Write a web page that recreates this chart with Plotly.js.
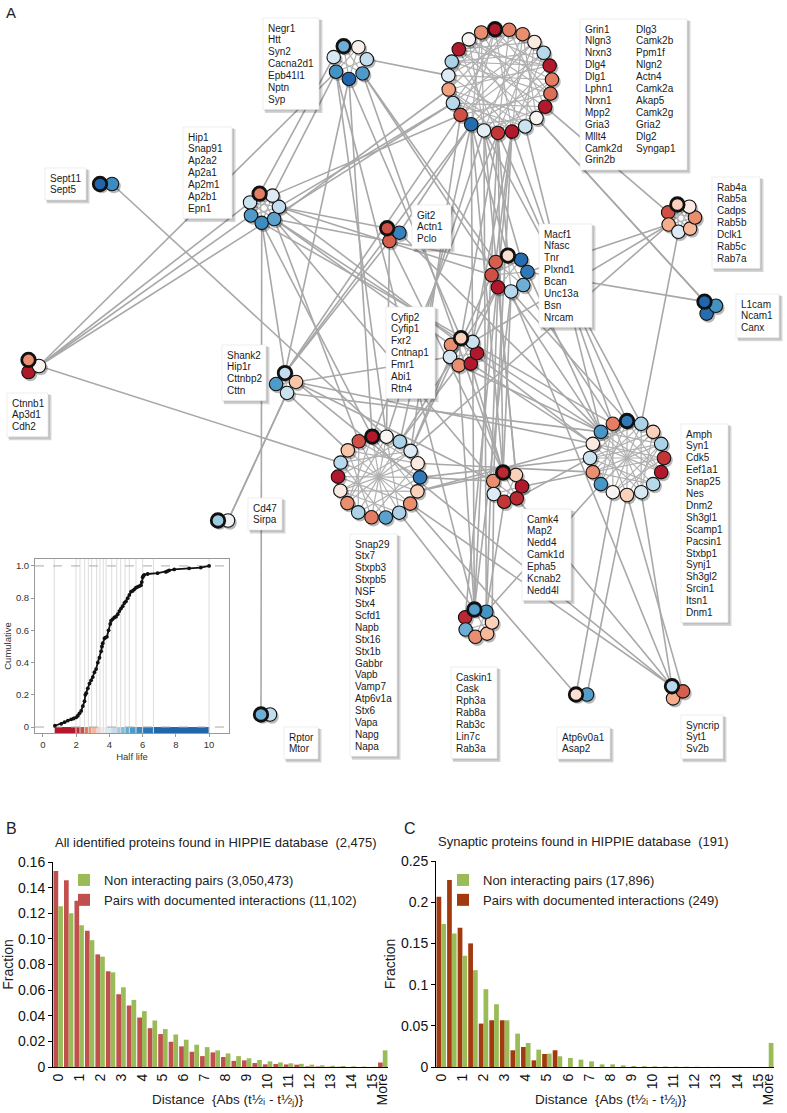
<!DOCTYPE html>
<html><head><meta charset="utf-8">
<script src="https://cdn.plot.ly/plotly-3.0.1.min.js"></script>
<style>html,body{margin:0;padding:0;background:#fff}#chart{width:787px;height:1113px}</style>
</head><body><div id="chart"></div>
<script>
// ================= DATA =================
// Panels B and C: histogram bins of |t1/2 i - t1/2 j|
const distanceBins = ["0","0.5","1","1.5","2","2.5","3","3.5","4","4.5","5","5.5","6","6.5","7","7.5","8","8.5","9","9.5","10","10.5","11","11.5","12","12.5","13","13.5","14","14.5","15","More"];
const labelledBins = ["0","1","2","3","4","5","6","7","8","9","10","11","12","13","14","15","More"];
const allInteracting = [0.153,0.1457,0.1297,0.1063,0.0879,0.0747,0.0568,0.048,0.0386,0.0303,0.0257,0.0197,0.0161,0.0119,0.0085,0.0114,0.0078,0.0048,0.0052,0.0031,0.0021,0.0023,0.002,0.0018,0.0005,0.0004,0.0002,0.0002,0,0,0,0.0035];
const allNonInteracting = [0.1255,0.12,0.1107,0.099,0.0861,0.0739,0.0622,0.0524,0.0436,0.0363,0.0296,0.0254,0.0213,0.0174,0.0155,0.013,0.0106,0.0085,0.0068,0.0055,0.0044,0.0036,0.0029,0.0025,0.0018,0.0013,0.001,0.0008,0.0005,0.0003,0.0002,0.013];
const synInteracting = [0.2067,0.2269,0.169,0.15,0.0527,0.0567,0.0567,0.0203,0.0243,0.0081,0.0158,0.0203,0,0,0,0,0,0,0,0,0,0,0,0,0,0,0,0,0,0,0,0];
const synNonInteracting = [0.1734,0.162,0.135,0.1175,0.0944,0.0762,0.0567,0.0405,0.0292,0.0211,0.0162,0.013,0.011,0.0089,0.0069,0.0032,0.0032,0.002,0.0012,0.001,0.0008,0.0006,0.0005,0.0004,0.0003,0.0002,0.0002,0.0001,0.0001,0.0001,0.0001,0.0292];
const seriesNamesB = ["Pairs with documented interactions (11,102)","Non interacting pairs (3,050,473)"];
const seriesNamesC = ["Pairs with documented interactions (249)","Non interacting pairs (17,896)"];

// Inset: cumulative distribution of half lives
const halfLifeSorted = [0.72,1.1,1.3,1.5,1.7,1.85,2.0,2.1,2.2,2.3,2.4,2.5,2.55,2.6,2.7,2.8,2.9,3.0,3.1,3.2,3.3,3.4,3.5,3.55,3.6,3.7,3.75,3.85,3.95,4.05,4.1,4.2,4.3,4.4,4.5,4.6,4.7,4.8,4.9,5.0,5.1,5.2,5.3,5.4,5.5,5.6,5.7,5.8,5.9,5.95,6.0,6.05,6.1,6.3,6.9,7.4,7.5,7.6,7.9,8.8,9.5,10.0];
const cumulativeFraction = [0.008,0.02,0.03,0.04,0.048,0.053,0.06,0.07,0.085,0.1,0.13,0.16,0.2,0.21,0.24,0.27,0.29,0.31,0.34,0.36,0.4,0.43,0.47,0.5,0.52,0.55,0.555,0.56,0.6,0.64,0.66,0.67,0.68,0.685,0.7,0.72,0.735,0.75,0.77,0.78,0.8,0.82,0.84,0.845,0.855,0.865,0.87,0.875,0.88,0.9,0.93,0.94,0.945,0.95,0.955,0.963,0.968,0.973,0.978,0.985,0.99,1.0];
const colourBreaks = [0.68,1.99,2.23,2.51,2.73,2.93,3.23,3.43,3.63,3.80,4.14,4.44,4.68,4.94,5.20,5.60,6.00,6.65,10.0];
const breakColours = ["#b2182b","#b2182b","#c43a3a","#d6604d","#e58267","#f4a582","#f9c8ad","#fbe3d6","#f7f7f7","#e4eef5","#d1e5f0","#b4d6ea","#92c5de","#74b2d6","#5aa1cd","#4393c3","#3582be","#2166ac","#2166ac"];

// Network: protein complexes (clusters), their genes and half lives
const clusterGenes = [
 ["Negr1","Htt","Syn2","Cacna2d1","Epb41l1","Nptn","Syp"],
 ["Grin1","Nlgn3","Nrxn3","Dlg4","Dlg1","Lphn1","Nrxn1","Mpp2","Gria3","Mllt4","Camk2d","Grin2b","Dlg3","Camk2b","Ppm1f","Nlgn2","Actn4","Camk2a","Akap5","Camk2g","Gria2","Dlg2","Syngap1"],
 ["Hip1","Snap91","Ap2a2","Ap2a1","Ap2m1","Ap2b1","Epn1"],
 ["Sept11","Sept5"],
 ["Ctnnb1","Ap3d1","Cdh2"],
 ["Git2","Actn1","Pclo"],
 ["Macf1","Nfasc","Tnr","Plxnd1","Bcan","Unc13a","Bsn","Nrcam"],
 ["Cyfip2","Cyfip1","Fxr2","Cntnap1","Fmr1","Abi1","Rtn4"],
 ["Shank2","Hip1r","Cttnbp2","Cttn"],
 ["Snap29","Stx7","Stxpb3","Stxpb5","NSF","Stx4","Scfd1","Napb","Stx16","Stx1b","Gabbr","Vapb","Vamp7","Atp6v1a","Stx6","Vapa","Napg","Napa"],
 ["Camk4","Map2","Nedd4","Camk1d","Epha5","Kcnab2","Nedd4l"],
 ["Amph","Syn1","Cdk5","Eef1a1","Snap25","Nes","Dnm2","Sh3gl1","Scamp1","Pacsin1","Stxbp1","Synj1","Sh3gl2","Srcin1","Itsn1","Dnm1"],
 ["Rab4a","Rab5a","Cadps","Rab5b","Dclk1","Rab5c","Rab7a"],
 ["L1cam","Ncam1","Canx"],
 ["Cd47","Sirpa"],
 ["Caskin1","Cask","Rph3a","Rab8a","Rab3c","Lin7c","Rab3a"],
 ["Rptor","Mtor"],
 ["Atp6v0a1","Asap2"],
 ["Syncrip","Syt1","Sv2b"]
];
const clusterHalfLife = [
 [5.0,3.55,4.3,5.4,7.0,5.6,4.0],
 [1.3,2.7,2.8,3.5,4.4,2.0,2.7,2.6,2.0,3.6,4.2,1.7,2.2,3.8,6.5,2.4,4.4,2.9,3.9,4.5,2.0,3.6,2.8],
 [2.7,3.9,4.3,5.2,5.8,5.4,4.2],
 [7.0,5.8],
 [2.8,3.6,1.9],
 [2.4,6.0,2.5],
 [3.4,6.5,6.2,5.0,4.4,1.5,2.4,2.5],
 [3.3,4.2,1.9,2.0,2.8,4.1,2.8],
 [4.3,3.2,4.2,5.4],
 [2.0,3.6,4.5,3.9,3.5,6.2,3.3,2.8,4.5,5.2,2.7,4.5,2.8,3.5,2.0,4.4,3.2,2.4],
 [2.1,3.3,1.4,2.1,2.2,3.9,2.8],
 [6.2,4.5,3.3,4.5,2.2,1.6,4.4,4.0,3.3,3.6,5.5,2.8,4.2,3.5,5.5,2.7],
 [3.3,3.5,2.8,3.1,3.9,3.0,2.4],
 [6.8,5.6,6.5],
 [4.6,3.7],
 [5.3,5.6,3.3,3.1,2.8,5.0,2.1],
 [5.0,4.3],
 [3.4,5.3],
 [4.4,2.5,3.0]
];
// interactions inside each complex: [node i, node j]
const clusterIntra = [
 [[0,3],[1,4],[2,5],[3,6],[0,4],[1,5]],
 [[0,11],[0,14],[1,12],[1,16],[2,13],[2,18],[3,12],[3,15],[4,14],[4,19],[5,13],[5,17],[5,20],[6,14],[6,18],[7,15],[7,21],[8,16],[8,20],[9,17],[9,22],[10,18],[10,21],[11,19],[11,2],[12,20],[12,6],[13,21],[13,8],[14,22],[14,9],[15,0],[15,4],[16,3],[16,10],[17,1],[17,11],[18,0],[19,7],[20,3],[21,2],[22,5],[0,7],[2,9],[4,11],[6,21],[8,1],[10,3],[12,17],[19,5],[20,9],[22,13]],
 [[0,3],[1,4],[2,5],[3,6],[0,4],[1,5],[2,6],[0,2]],
 [],
 [],
 [[0,2]],
 [[0,4],[1,5],[2,6],[3,7],[0,3],[1,6]],
 [[0,3],[1,4],[2,5],[0,4]],
 [[0,2],[1,3]],
 [[0,9],[0,6],[1,10],[2,11],[3,12],[4,13],[5,14],[6,15],[7,16],[8,17],[0,12],[1,8],[2,14],[3,15],[4,10],[5,11],[6,13],[7,14],[9,15],[10,16],[11,17],[12,1],[13,3],[16,4],[17,5],[0,4],[8,13]],
 [[0,3],[1,4],[2,5],[3,6],[0,2]],
 [[0,8],[0,5],[1,9],[2,10],[3,11],[4,12],[5,13],[6,14],[7,15],[0,10],[1,7],[2,12],[3,9],[4,11],[5,14],[6,12],[7,13],[8,14],[9,15],[10,2],[11,1],[12,3],[13,4],[15,5],[0,12],[2,7],[4,9],[6,11],[8,3],[10,15],[1,13],[3,14]],
 [[0,3],[1,4],[2,5],[3,6],[0,4],[1,5],[2,6]],
 [],
 [],
 [[0,3],[2,5],[1,4]],
 [],
 [],
 []
];
// interactions between complexes: [complex a, complex b, node shift a, node shift b]
const interEdges = [
 [0,1,0,0],[0,4,0,0],[0,2,0,0],[0,2,1,-1],[0,9,0,0],[0,9,1,1],[0,7,0,0],[0,6,0,0],[0,10,-1,0],[0,11,0,0],[0,15,1,0],[0,8,0,0],
 [1,2,0,0],[1,2,1,1],[1,2,-1,-1],[1,4,0,0],[1,5,0,0],
 [1,6,0,0],[1,6,1,1],[1,6,-1,-1],[1,6,2,0],[1,7,0,0],[1,7,-1,1],[1,8,0,0],[1,8,1,0],
 [1,9,0,0],[1,9,1,1],[1,9,-1,-1],[1,9,2,2],[1,10,0,0],[1,10,1,1],[1,10,-1,-1],[1,10,2,0],
 [1,11,0,0],[1,11,1,1],[1,11,-1,-1],[1,11,2,2],[1,12,0,0],[1,13,0,0],
 [1,15,0,0],[1,15,1,1],[1,15,-1,-1],[1,15,2,0],
 [2,4,0,0],[2,4,1,0],[2,16,0,0],[2,6,0,0],[2,6,1,1],[2,7,0,0],[2,9,0,0],[2,9,1,1],[2,10,0,0],
 [2,11,0,0],[2,11,1,1],[2,11,-1,-1],[2,8,0,0],[2,5,0,0],
 [3,9,0,3],[4,9,0,0],
 [5,9,0,0],[5,11,0,0],[5,8,0,0],[5,10,0,0],
 [6,9,0,0],[6,9,1,1],[6,10,0,0],[6,10,1,1],[6,11,0,0],[6,11,1,1],[6,11,-1,-1],[6,15,0,0],[6,15,1,1],[6,13,0,0],[6,12,0,0],[6,18,0,0],[6,7,0,0],
 [7,8,0,0],[7,9,0,0],[7,9,1,1],[7,11,0,0],[7,11,1,1],[7,10,0,0],[7,12,0,0],[7,15,0,0],
 [8,14,0,0],[8,11,0,0],[8,11,1,1],[8,9,0,0],[8,18,0,0],[8,10,0,0],
 [9,18,0,0],[9,11,0,0],[9,11,1,1],[9,11,-1,-1],[9,10,0,0],[9,10,1,1],[9,15,0,0],[9,17,0,0],
 [10,11,0,0],[10,11,1,1],[10,15,0,0],[10,15,1,1],[10,18,0,0],
 [11,18,0,0],[11,18,1,1],[11,17,0,0],[11,17,1,-1],[11,15,0,0],[11,12,0,0],
 [12,9,0,0],[13,1,0,0],[14,8,0,0]
];

// ================= LAYOUT (positions / sizes, network pixel space) =================
const W = 787, H = 1113, NET_H = 780;
const clusterCX = [350,500,264,106,32,392,509.5,463,286,379,507,627,681,709,223,478,265.5,581.5,676];
const clusterCY = [62,81,208,184,366,234,273.5,352,383,477,487,458,218,307,520.5,623,714.5,694.5,692];
const clusterR  = [17,52,15,6,7,7.5,18,14,10,41,15,37,14,7,5,14,4.5,5.5,7];
const clusterStart = [-22,-5.5,-17,-90,-30,-40,-5,-8,-6,-9.5,-15,0,-15,-40,-90,-15,-90,-90,-35];
const labelX = [267,584,187,49,11,416,543,390,226,354,526,685,716,740,252,455,288,561,685];
const labelY = [28,29,137,178,403,215,234,317,355,544,519,434,187,304,508,677,737,737,725];
const labelW = [56,107,49,41,41,39,53,49,44,47,49,47,48,43,34,46,34,53,42];
const labelCols = [1,2,1,1,1,1,1,1,1,1,1,1,1,1,1,1,1,1,1];
const LINE = 11.9;
const FONT = "Liberation Sans, Arial, Helvetica, sans-serif";

// ================= BUILD =================
const cmin = colourBreaks[0], cmax = colourBreaks[colourBreaks.length-1];
const colorscale = colourBreaks.map((b,i)=>[(b-cmin)/(cmax-cmin), breakColours[i]]);

function nodeXY(c,k){
  const n = clusterHalfLife[c].length;
  const th = (clusterStart[c] + 360*k/n) * Math.PI/180;
  return [clusterCX[c] + clusterR[c]*Math.sin(th), clusterCY[c] - clusterR[c]*Math.cos(th)];
}
function nearest(c,d){
  const n = clusterHalfLife[c].length; let best=0, bd=Infinity;
  for(let k=0;k<n;k++){const p=nodeXY(c,k);const dd=(p[0]-clusterCX[d])**2+(p[1]-clusterCY[d])**2;if(dd<bd){bd=dd;best=k;}}
  return best;
}
const intraX=[], intraY=[];
clusterIntra.forEach((list,c)=>list.forEach(([a,b])=>{const p=nodeXY(c,a),q=nodeXY(c,b);intraX.push(p[0],q[0],null);intraY.push(p[1],q[1],null);}));
const interX=[], interY=[];
interEdges.forEach(([a,b,oa,ob])=>{
  const na=clusterHalfLife[a].length, nb=clusterHalfLife[b].length;
  const ka=((nearest(a,b)+oa)%na+na)%na, kb=((nearest(b,a)+ob)%nb+nb)%nb;
  const p=nodeXY(a,ka), q=nodeXY(b,kb);
  interX.push(p[0],q[0],null); interY.push(p[1],q[1],null);
});
const nx=[],ny=[],nv=[],nw=[],nt=[],sx=[],sy=[];
clusterHalfLife.forEach((vals,c)=>{
  for(let k=vals.length-1;k>=0;k--){
    const p=nodeXY(c,k);
    nx.push(p[0]); ny.push(p[1]); nv.push(vals[k]); nw.push(k===0?2.8:1.1); nt.push(clusterGenes[c][k]);
    sx.push(p[0]+1.8); sy.push(p[1]+2.2);
  }
});

const shapes=[], annotations=[];
clusterGenes.forEach((genes,c)=>{
  const cols = labelCols[c];
  const perCol = Math.ceil(genes.length/cols);
  const nLines = Math.min(perCol, genes.length);
  const x0 = labelX[c]-4, y0 = labelY[c]-10, x1 = x0+labelW[c], y1 = labelY[c]+(nLines-1)*LINE+10;
  shapes.push({type:'rect',xref:'x',yref:'y',x0:x0+2,y0:y0+2,x1:x1+3.5,y1:y1+3.5,fillcolor:'rgba(0,0,0,0.16)',line:{width:0},layer:'above'});
  shapes.push({type:'rect',xref:'x',yref:'y',x0:x0+1,y0:y0+1,x1:x1+2,y1:y1+2,fillcolor:'rgba(0,0,0,0.10)',line:{width:0},layer:'above'});
  shapes.push({type:'rect',xref:'x',yref:'y',x0:x0,y0:y0,x1:x1,y1:y1,fillcolor:'#ffffff',line:{color:'#e2e2e2',width:0.6},layer:'above'});
  genes.forEach((g,i)=>{
    const col = Math.floor(i/perCol), row = i%perCol;
    annotations.push({xref:'x',yref:'y',x:labelX[c]+col*51,y:labelY[c]+row*LINE,text:g,showarrow:false,xanchor:'left',yanchor:'middle',font:{family:FONT,size:10,color:'#1a1a1a'},borderpad:0});
  });
});
const py = v => 1 - v/H;
annotations.push({xref:'x',yref:'y',x:4,y:12,text:'A',showarrow:false,xanchor:'left',yanchor:'middle',font:{family:FONT,size:15,color:'#222'}});
annotations.push({xref:'paper',yref:'paper',x:4/W,y:py(828),text:'B',showarrow:false,xanchor:'left',yanchor:'middle',font:{family:FONT,size:16,color:'#222'}});
annotations.push({xref:'paper',yref:'paper',x:402/W,y:py(828),text:'C',showarrow:false,xanchor:'left',yanchor:'middle',font:{family:FONT,size:16,color:'#222'}});
annotations.push({xref:'paper',yref:'paper',x:216/W,y:py(842),text:'All identified proteins found in HIPPIE database  (2,475)',showarrow:false,xanchor:'center',yanchor:'middle',font:{family:FONT,size:13,color:'#222'}});
annotations.push({xref:'paper',yref:'paper',x:583/W,y:py(841),text:'Synaptic proteins found in HIPPIE database  (191)',showarrow:false,xanchor:'center',yanchor:'middle',font:{family:FONT,size:13,color:'#222'}});
const distTitle = 'Distance  {Abs (t½ᵢ - t½ⱼ)}';
annotations.push({xref:'paper',yref:'paper',x:228/W,y:py(1100),text:distTitle,showarrow:false,xanchor:'center',yanchor:'middle',font:{family:FONT,size:13.5,color:'#222'}});
annotations.push({xref:'paper',yref:'paper',x:611/W,y:py(1100),text:distTitle,showarrow:false,xanchor:'center',yanchor:'middle',font:{family:FONT,size:13.5,color:'#222'}});

// inset helpers
const gx=[], gy=[];
colourBreaks.forEach(b=>{gx.push(b,b,null);gy.push(-0.037,1.043,null);});
const stripZ = [colourBreaks.slice(0,-1).map((b,i)=>(b+colourBreaks[i+1])/2)];

const traces = [
 {type:'scatter',mode:'lines',x:intraX,y:intraY,xaxis:'x',yaxis:'y',line:{color:'#b0b0b0',width:1.2},hoverinfo:'skip',showlegend:false},
 {type:'scatter',mode:'lines',x:interX,y:interY,xaxis:'x',yaxis:'y',line:{color:'#a8a8a8',width:1.6},hoverinfo:'skip',showlegend:false},
 {type:'scatter',mode:'markers',x:sx,y:sy,xaxis:'x',yaxis:'y',marker:{size:14,color:'rgba(0,0,0,0.28)',line:{width:0}},hoverinfo:'skip',showlegend:false},
 {type:'scatter',mode:'markers',x:nx,y:ny,text:nt,xaxis:'x',yaxis:'y',marker:{size:13.5,color:nv,colorscale:colorscale,cmin:cmin,cmax:cmax,showscale:false,line:{color:'#111',width:nw}},showlegend:false},
 // inset
 {type:'scatter',mode:'lines',x:gx,y:gy,xaxis:'x2',yaxis:'y2',line:{color:'#dcdcdc',width:1},hoverinfo:'skip',showlegend:false},
 {type:'scatter',mode:'lines',x:[-0.48,11.2,null,-0.48,11.2],y:[0,0,null,1,1],xaxis:'x2',yaxis:'y2',line:{color:'#aaaaaa',width:1,dash:'dash'},hoverinfo:'skip',showlegend:false},
 {type:'heatmap',x:colourBreaks,y:[-0.037,0],z:stripZ,xaxis:'x2',yaxis:'y2',colorscale:colorscale,zmin:cmin,zmax:cmax,showscale:false,hoverinfo:'skip'},
 {type:'scatter',mode:'lines+markers',x:halfLifeSorted,y:cumulativeFraction,xaxis:'x2',yaxis:'y2',line:{color:'#111',width:1.8},marker:{size:3.8,color:'#111'},showlegend:false},
 // B
 {type:'bar',x:distanceBins,y:allInteracting,xaxis:'x3',yaxis:'y3',name:seriesNamesB[0],marker:{color:'#C0504D'},legend:'legend'},
 {type:'bar',x:distanceBins,y:allNonInteracting,xaxis:'x3',yaxis:'y3',name:seriesNamesB[1],marker:{color:'#9BBB59'},legend:'legend'},
 // C
 {type:'bar',x:distanceBins,y:synInteracting,xaxis:'x4',yaxis:'y4',name:seriesNamesC[0],marker:{color:'#A23A10'},legend:'legend2'},
 {type:'bar',x:distanceBins,y:synNonInteracting,xaxis:'x4',yaxis:'y4',name:seriesNamesC[1],marker:{color:'#9BBB59'},legend:'legend2'}
];

function barX(dom,anchor){return {domain:dom,anchor:anchor,type:'category',categoryorder:'array',categoryarray:distanceBins,range:[-0.5,distanceBins.length-0.5],
  showline:true,linecolor:'#000',linewidth:1,ticks:'',tickmode:'array',tickvals:labelledBins,ticktext:labelledBins,
  tickangle:-90,tickfont:{family:FONT,size:14,color:'#111'},showgrid:false,zeroline:false,fixedrange:true};}
function tickX(over,anchor){return {overlaying:over,anchor:anchor,type:'category',categoryorder:'array',categoryarray:distanceBins,range:[-0.5,distanceBins.length-0.5],
  showline:false,ticks:'outside',ticklen:4,tickcolor:'#000',tickson:'boundaries',tickmode:'array',tickvals:distanceBins,showticklabels:false,showgrid:false,zeroline:false,fixedrange:true};}
function barY(dom,anchor,range,vals,txt){return {domain:dom,anchor:anchor,range:range,showline:true,linecolor:'#000',linewidth:1,ticks:'outside',ticklen:4,tickcolor:'#000',
  tickmode:'array',tickvals:vals,ticktext:txt,tickfont:{family:FONT,size:14,color:'#111'},showgrid:false,zeroline:false,
  title:{text:'Fraction',font:{family:FONT,size:14,color:'#222'},standoff:2},fixedrange:true};}

const layout = {
  width:W,height:H,margin:{l:0,r:0,t:0,b:0,autoexpand:false},paper_bgcolor:'#fff',plot_bgcolor:'rgba(0,0,0,0)',
  font:{family:FONT,color:'#222'},hovermode:false,barmode:'group',bargap:0.1,bargroupgap:0,showlegend:true,
  xaxis:{domain:[0,1],range:[0,W],visible:false,fixedrange:true},
  yaxis:{domain:[1-NET_H/H,1],range:[NET_H,0],visible:false,fixedrange:true},
  xaxis2:{domain:[35/W,229/W],anchor:'y2',range:[-0.48,11.2],showline:true,mirror:true,linecolor:'#999',linewidth:1,ticks:'outside',ticklen:3,tickcolor:'#999',
    tickvals:[0,2,4,6,8,10],tickfont:{family:FONT,size:9.5,color:'#333'},showgrid:false,zeroline:false,title:{text:'Half life',font:{family:FONT,size:9.5,color:'#333'},standoff:3},fixedrange:true},
  yaxis2:{domain:[py(733),py(559)],anchor:'x2',range:[-0.037,1.043],showline:true,mirror:true,linecolor:'#999',linewidth:1,ticks:'outside',ticklen:3,tickcolor:'#999',
    tickvals:[0,0.2,0.4,0.6,0.8,1.0],ticktext:['0','0.2','0.4','0.6','0.8','1.0'],tickfont:{family:FONT,size:9.5,color:'#333'},showgrid:false,zeroline:false,
    title:{text:'Cumulative',font:{family:FONT,size:9.5,color:'#333'},standoff:2},fixedrange:true},
  xaxis3:barX([53/W,388/W],'y3'),
  yaxis3:barY([py(1067),py(862)],'x3',[0,0.16],[0,0.02,0.04,0.06,0.08,0.10,0.12,0.14,0.16],['0','0.02','0.04','0.06','0.08','0.10','0.12','0.14','0.16']),
  xaxis4:barX([436/W,774/W],'y4'),
  yaxis4:barY([py(1067),py(861)],'x4',[0,0.25],[0,0.05,0.1,0.15,0.2,0.25],['0','0.05','0.1','0.15','0.2','0.25']),
  xaxis5:tickX('x3','y3'),
  xaxis6:tickX('x4','y4'),
  legend:{x:64/W,y:py(865),xanchor:'left',yanchor:'top',bgcolor:'rgba(0,0,0,0)',traceorder:'reversed',font:{family:FONT,size:13,color:'#222'},itemwidth:30,tracegroupgap:0},
  legend2:{x:443/W,y:py(865),xanchor:'left',yanchor:'top',bgcolor:'rgba(0,0,0,0)',traceorder:'reversed',font:{family:FONT,size:13,color:'#222'},itemwidth:30,tracegroupgap:0},
  shapes:shapes, annotations:annotations
};
Plotly.newPlot('chart',traces,layout,{staticPlot:true,displayModeBar:false});
</script>
</body></html>
